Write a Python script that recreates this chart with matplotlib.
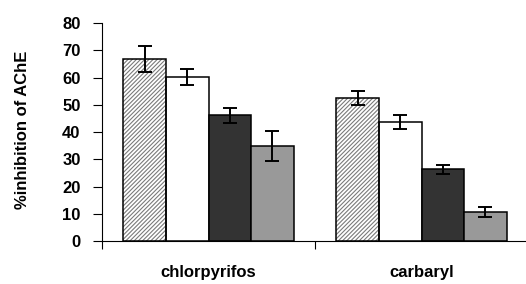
import numpy as np
import matplotlib
matplotlib.use("Agg")
import matplotlib.pyplot as plt

plt.rcParams['font.family'] = ['Liberation Sans', 'DejaVu Sans']
plt.rcParams['hatch.linewidth'] = 0.8

CATEGORIES = ["chlorpyrifos", "carbaryl"]
SERIES_1 = [66.9, 52.4]
SERIES_2 = [60.2, 43.7]
SERIES_3 = [46.1, 26.3]
SERIES_4 = [35.0, 10.7]
ERR_1 = [4.8, 2.5]
ERR_2 = [2.9, 2.7]
ERR_3 = [2.7, 1.5]
ERR_4 = [5.5, 1.7]
Y_TICKS = [0, 10, 20, 30, 40, 50, 60, 70, 80]

fig = plt.figure(figsize=(5.26, 2.84), dpi=100)
ax = fig.add_axes([0.194, 0.151, 0.81, 0.768])

x = np.arange(len(CATEGORIES))
w = 0.2
series = [SERIES_1, SERIES_2, SERIES_3, SERIES_4]
errs = [ERR_1, ERR_2, ERR_3, ERR_4]
offsets = [-0.3, -0.1, 0.1, 0.3]
faces = ["white", "white", "#333333", "#999999"]

for i, (vals, err, off, fc) in enumerate(zip(series, errs, offsets, faces)):
    if i == 0:
        # hatch drawn in grey, outline drawn separately in black
        ax.bar(x + off, vals, w, color="white", edgecolor="#7a7a7a",
               hatch="////////", linewidth=0, zorder=2)
        ax.bar(x + off, vals, w, fill=False, edgecolor="black",
               linewidth=1.1, zorder=3)
    else:
        ax.bar(x + off, vals, w, color=fc, edgecolor="black",
               linewidth=1.1, zorder=2)
    ax.errorbar(x + off, vals, yerr=err, fmt="none", ecolor="black",
                elinewidth=1.4, capsize=5, capthick=1.4, zorder=4)

ax.set_xlim(-0.5, 1.5)
ax.set_ylim(0, 80)
ax.set_yticks(Y_TICKS)
ax.set_yticklabels([str(t) for t in Y_TICKS], fontsize=12, fontweight="bold")
ax.tick_params(axis="y", direction="out", length=6.5, width=0.8, pad=9)

ax.set_xticks(x)
ax.set_xticklabels(CATEGORIES, fontsize=12, fontweight="bold")
ax.tick_params(axis="x", which="major", length=0, pad=17)
ax.set_xticks([-0.5, 0.5, 1.5], minor=True)
ax.tick_params(axis="x", which="minor", direction="out", length=5.5, width=0.8)

ax.set_ylabel("%inhibition of AChE", fontsize=12, fontweight="bold")
ax.yaxis.set_label_coords(-0.168, 0.51)

ax.spines["top"].set_visible(False)
ax.spines["right"].set_visible(False)
ax.spines["left"].set_linewidth(0.8)
ax.spines["bottom"].set_linewidth(0.8)

fig.savefig("out.png", dpi=100)
